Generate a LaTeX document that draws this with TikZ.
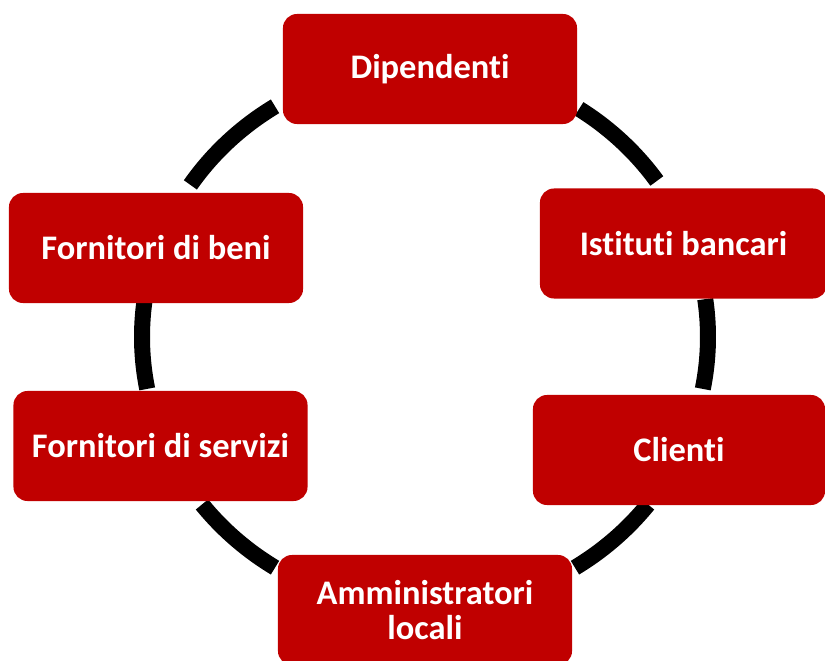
\documentclass[tikz,border=0pt]{standalone}
\usepackage{fontspec}
\setmainfont{Carlito}[Ligatures=NoCommon]
\definecolor{boxred}{HTML}{C00000}
\tikzset{
  party/.style={fill=boxred, rounded corners=0.35cm, text=white, align=center,
    font=\fontsize{24.5}{25.5}\selectfont\bfseries, inner sep=0pt,
    minimum width=7.35cm, minimum height=2.75cm},
  ring/.style={line width=0.4cm, draw=black}
}

\begin{document}
\begin{tikzpicture}[x=0.025cm,y=0.025cm]
\useasboundingbox (0,0) rectangle (825,660);
\clip (0,0) rectangle (825,660);

\coordinate (ctr) at (425,323);

% ring segments between the boxes
\foreach \a/\b in {122/146,57/35,8/-11,-38/-58,238/218,191/172} {
\draw[ring] (ctr) ++(\a:283 and 272) arc[start angle=\a, end angle=\b, x radius=283, y radius=272];
}

\coordinate (c0) at (430,591);
\coordinate (c1) at (683.5,416.5);
\coordinate (c2) at (679,210);
\coordinate (c3) at (425,50);
\coordinate (c4) at (160.5,214);
\coordinate (c5) at (156,412);

\node (l0) at (c0) [party] {Dipendenti};
\node (l1) at (c1) [party, minimum width=7.175cm] {Istituti bancari};
\node (l2) at (c2) [party, minimum width=7.3cm] {Clienti};
\node (l3) at (c3) [party] {Amministratori\\locali};
\node (l4) at (c4) [party] {Fornitori di servizi};
\node (l5) at (c5) [party] {Fornitori di beni};
\end{tikzpicture}
\end{document}
